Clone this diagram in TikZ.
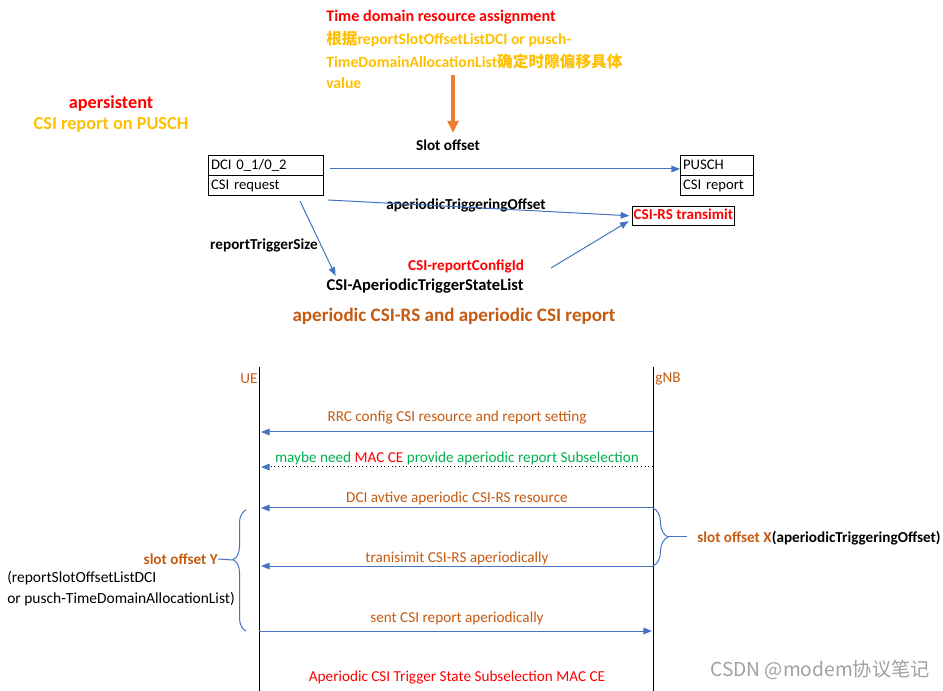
\documentclass[tikz,border=0pt]{standalone}
\usepackage{fontspec}
\setmainfont{Carlito}
\newfontfamily\cjkf{Noto Sans CJK SC}
\usetikzlibrary{arrows.meta,decorations.pathreplacing}
\definecolor{myred}{HTML}{FF0000}
\definecolor{mygold}{HTML}{FFC000}
\definecolor{mybrown}{HTML}{C55A11}
\definecolor{myblue}{HTML}{4472C4}
\definecolor{mygreen}{HTML}{00B050}
\definecolor{myorange}{HTML}{ED7D31}
\definecolor{mygray}{HTML}{A0A0A0}
\newcommand{\zh}[1]{{\cjkf #1}}
\begin{document}
\begin{tikzpicture}[x=0.75pt,y=-0.75pt,
  lbl/.style={inner sep=0pt, font=\fontsize{11.4}{13.7}\selectfont},
  blbl/.style={inner sep=0pt, font=\fontsize{11.4}{13.7}\selectfont\bfseries},
  title/.style={inner sep=0pt, font=\fontsize{13.7}{16.4}\selectfont\bfseries},
  cell/.style={draw, line width=0.6pt, anchor=north west, minimum height=15pt, inner xsep=2pt, inner ysep=0pt, text height=8pt, text depth=2.5pt, align=left, font=\fontsize{11}{13}\selectfont},
  msg/.style={draw=myblue, line width=0.75pt, -{Triangle[length=6.5pt,width=5pt]}},
  life/.style={draw=black, line width=0.75pt},
  bracestyle/.style={draw=myblue, line width=0.75pt, decorate},
]
\useasboundingbox (0,0) rectangle (943,691);

% ---------- top part ----------
\node[inner sep=0pt, font=\fontsize{12.1}{14.5}\selectfont\bfseries, text=myred, anchor=west] (tda) at (326,17) {Time domain resource assignment};
\node[inner sep=0pt, font=\fontsize{11.75}{14}\selectfont\bfseries, text=mygold, anchor=west] (g1) at (326,39) {\zh{\bfseries 根据}reportSlotOffsetListDCI or pusch-};
\node[inner sep=0pt, font=\fontsize{11.75}{14}\selectfont\bfseries, text=mygold, anchor=west] (g2) at (326,61) {TimeDomainAllocationList\zh{\bfseries 确定时隙偏移具体}};
\node[inner sep=0pt, font=\fontsize{11.75}{14}\selectfont\bfseries, text=mygold, anchor=west] (g3) at (326,83) {value};

\node[blbl] (slot) at (448,145) {Slot offset};
\coordinate (oa) at (453,75);
\draw[draw=myorange, line width=2.4pt, -{Triangle[length=9pt,width=8pt]}] (oa) -- (453,133);

\node[title, text=myred] (aper) at (111,104) {apersistent};
\node[title, text=mygold] (csipusch) at (111,125) {CSI report on PUSCH};

\node[cell, text width=82pt] (dci1) at (208,155) {DCI 0\_1/0\_2};
\node[cell, text width=82pt] (dci2) at (208,175) {CSI request};
\node[cell, text width=50.5pt] (pusch1) at (680,155) {PUSCH};
\node[cell, text width=50.5pt] (pusch2) at (680,175) {CSI report};
\node[draw, line width=0.6pt, anchor=north west, inner xsep=1pt, inner ysep=0pt, text height=8.5pt, text depth=2.5pt, minimum height=14.25pt, minimum width=75.75pt, font=\fontsize{11.3}{13.5}\selectfont\bfseries, text=myred] (csirs) at (632,206) {CSI-RS transimit};

\node[blbl] (ato) at (466,205) {aperiodicTriggeringOffset};
\node[blbl] (rts) at (264,245) {reportTriggerSize};
\node[blbl, text=myred] (rcid) at (466,266) {CSI-reportConfigId};
\node[inner sep=0pt, font=\fontsize{12.4}{14.8}\selectfont\bfseries] (list) at (425,286) {CSI-AperiodicTriggerStateList};
\node[inner sep=0pt, font=\fontsize{14.3}{17}\selectfont\bfseries, text=mybrown] (sub) at (454,316) {aperiodic CSI-RS and aperiodic CSI report};

\coordinate (s1) at (330,169);
\draw[msg] (s1) -- (pusch1.west |- s1);
\coordinate (t1) at (328,200);
\draw[msg, shorten >=2pt] (t1) -- (csirs.west);
\coordinate (r1) at (300,201);
\draw[msg] (r1) -- ([xshift=7pt,yshift=2pt]list.north west);
\coordinate (c1) at (551,268);
\draw[msg, shorten >=3pt] (c1) -- ([yshift=5pt]csirs.south west);

% ---------- sequence ----------
\node[lbl, text=mybrown] (ue) at (249,379) {UE};
\node[lbl, text=mybrown] (gnb) at (668,379) {gNB};
\coordinate (ueT) at (259,367); \coordinate (ueB) at (259,691);
\coordinate (gnT) at (653,367); \coordinate (gnB) at (653,691);
\draw[life] (ueT) -- (ueB);
\draw[life] (gnT) -- (gnB);

\coordinate (m1g) at (653,432); \coordinate (m1u) at (261,432);
\coordinate (m2g) at (653,467); \coordinate (m2u) at (261,467);
\coordinate (m3g) at (653,508); \coordinate (m3u) at (261,508);
\coordinate (m4g) at (653,566); \coordinate (m4u) at (261,566);
\coordinate (m5g) at (652,631); \coordinate (m5u) at (259,631);

\node[lbl, text=mybrown] (l1) at (457,418) {RRC config CSI resource and report setting};
\draw[msg] (m1g) -- (m1u);
\node[lbl, text=mygreen] (l2) at (457,458) {maybe need \textcolor{myred}{MAC CE} provide aperiodic report Subselection};
\draw[black, line width=0.75pt, dotted, -{Triangle[length=6.5pt,width=5pt,color=myblue]}] (m2g) -- (m2u);
\node[lbl, text=mybrown] (l3) at (457,498) {DCI avtive aperiodic CSI-RS resource};
\draw[msg] (m3g) -- (m3u);
\node[lbl, text=mybrown] (l4) at (457,558) {tranisimit CSI-RS aperiodically};
\draw[msg] (m4g) -- (m4u);
\node[lbl, text=mybrown] (l5) at (457,618) {sent CSI report aperiodically};
\draw[msg] (m5u) -- (m5g);
\node[lbl, text=myred] (l6) at (457,678) {Aperiodic CSI Trigger State Subselection MAC CE};

% left brace
\coordinate (lbB) at (246,631); \coordinate (lbT) at (246,510);
\draw[bracestyle, decoration={brace, amplitude=9.75pt, aspect=0.59}] (lbB) -- (lbT);
\coordinate (lbtip) at (233,560);
\node[blbl, text=mybrown, anchor=east] (soy) at (218,559) {slot offset Y};
\draw[draw=myblue, line width=0.75pt] (lbtip) -- (soy.east);
\node[inner sep=0pt, font=\fontsize{11.6}{14}\selectfont, anchor=west] (p1) at (7,578) {(reportSlotOffsetListDCI};
\node[inner sep=0pt, font=\fontsize{11.6}{14}\selectfont, anchor=west] (p2) at (7,599) {or pusch-TimeDomainAllocationList)};

% right brace
\coordinate (rbT) at (653,508); \coordinate (rbB) at (653,566);
\draw[bracestyle, decoration={brace, amplitude=11.25pt, aspect=0.5}] (rbT) -- (rbB);
\coordinate (rbtip) at (668,537);
\coordinate (rbend) at (687,537);
\draw[draw=myblue, line width=0.75pt] (rbtip) -- (rbend);
\node[blbl, anchor=west] (sox) at (697,538) {\textcolor{mybrown}{slot offset X}(aperiodicTriggeringOffset)};

% watermark
\node[inner sep=0pt, text=mygray, font=\cjkf\fontsize{14.4}{16}\selectfont] (wm) at (820,670) {CSDN @modem协议笔记};
\end{tikzpicture}
\end{document}
